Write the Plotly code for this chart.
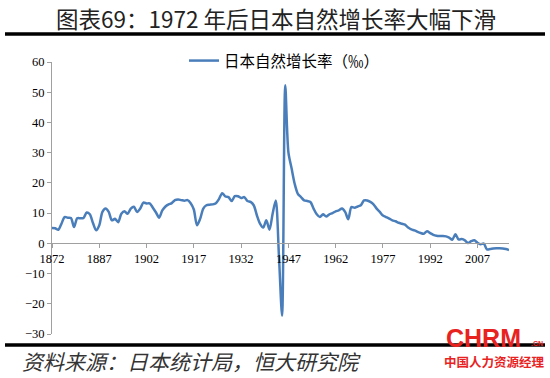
import plotly.graph_objects as go

# ---- data ----
years = list(range(1872, 2018))
rate = [
    5.1, 5.0, 4.5, 6.5, 8.7, 8.5, 8.4, 5.4, 8.3, 8.3,      # 1872-1881
    8.4, 10.2, 9.6, 6.7, 4.3, 6.0, 10.4, 11.5, 10.4, 7.6,   # 1882-1891
    8.1, 7.0, 9.8, 10.6, 9.8, 11.5, 12.1, 10.4, 11.5, 13.5, # 1892-1901
    13.2, 13.2, 11.8, 10.2, 8.5, 10.9, 12.2, 12.9, 13.3, 14.3, # 1902-1911
    14.5, 14.3, 14.1, 14.3, 13.3, 11.2, 6.0, 8.1, 11.5, 12.6,  # 1912-1921
    12.8, 12.9, 13.3, 14.7, 16.6, 15.5, 15.3, 14.0, 15.6, 15.6, # 1922-1931
    15.0, 15.3, 14.0, 13.7, 12.6, 9.3, 6.5, 5.2, 7.6, 4.5,      # 1932-1941
    9.8, 14.2, -4.0, -24.0, 52.3, 30.2, 24.9, 19.7, 16.4, 15.3, # 1942-1951
    14.2, 14.0, 13.7, 11.5, 9.6, 8.7, 9.6, 8.9, 9.6, 10.0,      # 1952-1961
    10.6, 10.9, 11.5, 10.4, 8.0, 12.0, 11.8, 12.2, 12.6, 14.2,  # 1962-1971
    14.2, 13.7, 12.9, 11.5, 10.4, 9.2, 8.7, 8.2, 7.6, 7.3,      # 1972-1981
    6.8, 6.5, 6.2, 5.2, 4.6, 4.3, 3.8, 3.4, 3.2, 4.0,           # 1982-1991
    3.4, 2.8, 2.5, 2.4, 2.4, 2.3, 1.9, 1.2, 3.0, 1.3,           # 1992-2001
    1.4, 1.0, 0.1, 0.7, 1.0, 0.2, -0.3, -0.1, -2.0, -1.9,       # 2002-2011
    -1.7, -1.6, -1.6, -1.7, -1.9, -2.2,                         # 2012-2017
]
x_tickvals = list(range(1872, 2008, 15))
y_tickvals = list(range(-30, 61, 10))
series_name = "日本自然增长率（‰）"
title_text = "图表69：1972 年后日本自然增长率大幅下滑"
source_text = "资料来源：日本统计局，恒大研究院"

# ---- layout geometry (pixels) ----
W, H = 550, 378
L, R, T, B = 52, 41, 62, 44
PW, PH = W - L - R, H - T - B


def px2x(px):
    return (px - L) / PW


def py2y(py):
    return (T + PH - py) / PH


fig = go.Figure()
fig.add_trace(go.Scatter(
    x=years, y=rate, mode="lines", name=series_name,
    line=dict(color="#4a7ebb", width=2.5, shape="spline", smoothing=0.8),
    hoverinfo="skip",
))

axis_col = "#a0a0a0"
tick_font = dict(family="Liberation Serif, Times New Roman, serif", size=12.5, color="#000000")

fig.update_layout(
    width=W, height=H,
    margin=dict(l=L, r=R, t=T, b=B, pad=0, autoexpand=False),
    paper_bgcolor="white", plot_bgcolor="white",
    showlegend=True,
    legend=dict(
        x=px2x(184), y=py2y(61), xanchor="left", yanchor="middle",
        orientation="h", bgcolor="rgba(0,0,0,0)",
        font=dict(family="Noto Sans CJK SC", size=15.5, color="#000000"),
        itemwidth=30,
    ),
    xaxis=dict(
        range=[1872, 2017], tickvals=x_tickvals,
        anchor="free", position=30 / 90,
        showline=True, linecolor=axis_col, linewidth=1,
        ticks="outside", ticklen=4, tickcolor=axis_col,
        showgrid=False, zeroline=False, tickfont=tick_font,
    ),
    yaxis=dict(
        range=[-30, 60], tickvals=y_tickvals,
        showline=True, linecolor=axis_col, linewidth=1,
        ticks="outside", ticklen=4, tickcolor=axis_col,
        showgrid=False, zeroline=False, tickfont=tick_font,
    ),
)

# title and separators
fig.add_annotation(
    text=title_text, xref="paper", yref="paper",
    x=px2x(276), y=py2y(18), xanchor="center", yanchor="middle",
    showarrow=False,
    font=dict(family="Noto Sans CJK SC", size=22.5, color="#222222"),
)
fig.add_shape(type="line", xref="paper", yref="paper",
              x0=px2x(5), x1=px2x(545), y0=py2y(34), y1=py2y(34),
              line=dict(color="#000000", width=3.5))
fig.add_shape(type="line", xref="paper", yref="paper",
              x0=px2x(5), x1=px2x(545), y0=py2y(345), y1=py2y(345),
              line=dict(color="#000000", width=3.5))

fig.add_annotation(
    text=source_text, xref="paper", yref="paper",
    x=px2x(20), y=py2y(361), xanchor="left", yanchor="middle",
    showarrow=False,
    font=dict(family="Noto Sans CJK SC", size=21, color="#333333", style="italic"),
)

# watermark
fig.add_annotation(
    text="<b>CHRM</b>", xref="paper", yref="paper",
    x=px2x(483), y=py2y(338), xanchor="center", yanchor="middle",
    showarrow=False,
    font=dict(family="Liberation Sans, Arial", size=25, color="#e8231f"),
)
fig.add_annotation(
    text="<b>.CN</b>", xref="paper", yref="paper",
    x=px2x(537), y=py2y(343), xanchor="center", yanchor="middle",
    showarrow=False,
    font=dict(family="Liberation Sans, Arial", size=7, color="#e8231f"),
)
fig.add_annotation(
    text="<b>中国人力资源经理</b>", xref="paper", yref="paper",
    x=px2x(494), y=py2y(361), xanchor="center", yanchor="middle",
    showarrow=False,
    font=dict(family="Noto Sans CJK SC", size=12.5, color="#e8231f"),
)

fig.write_html(
    "out.html",
    config={"displayModeBar": False},
    post_script="document.body.style.margin='0';document.body.style.overflow='hidden';",
)
